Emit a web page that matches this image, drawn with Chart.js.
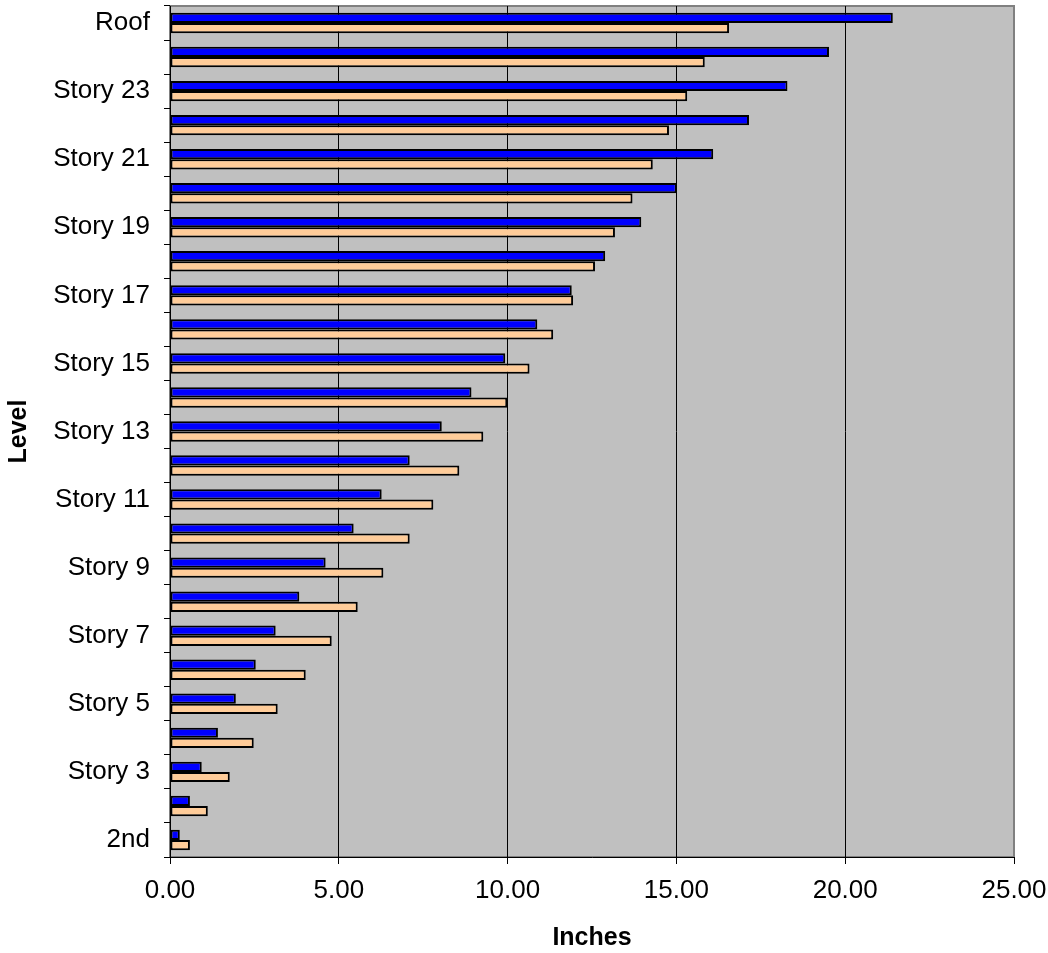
<!DOCTYPE html>
<html>
<head>
<meta charset="utf-8">
<script src="https://cdn.jsdelivr.net/npm/chart.js@4/dist/chart.umd.min.js"></script>
<style>
    body { margin: 0; background: #fff; }
    canvas { display: block; }
</style>
</head>
<body>
<canvas id="chart" width="1048" height="953"></canvas>
<script>
// levels from bottom (2nd) to top (Roof)
const levels = ['2nd', 'Story 2', 'Story 3', 'Story 4', 'Story 5', 'Story 6', 'Story 7', 'Story 8',
    'Story 9', 'Story 10', 'Story 11', 'Story 12', 'Story 13', 'Story 14', 'Story 15', 'Story 16',
    'Story 17', 'Story 18', 'Story 19', 'Story 20', 'Story 21', 'Story 22', 'Story 23', 'Story 24', 'Roof'];
const blueValues = [0.29, 0.59, 0.94, 1.42, 1.95, 2.54, 3.13, 3.83, 4.61, 5.44, 6.27, 7.10, 8.05,
    8.93, 9.93, 10.88, 11.90, 12.89, 13.96, 15.01, 16.09, 17.15, 18.29, 19.52, 21.41];
const peachValues = [0.59, 1.12, 1.77, 2.48, 3.19, 4.02, 4.79, 5.56, 6.32, 7.10, 7.80, 8.57, 9.28,
    9.99, 10.65, 11.35, 11.94, 12.59, 13.18, 13.70, 14.30, 14.78, 15.32, 15.84, 16.56];
const xTicks = [0, 5, 10, 15, 20, 25];

const FONT = '"Liberation Sans", Arial, sans-serif';

const plotBackground = {
    id: 'plotBackground',
    beforeDraw(chart) {
        const { ctx, chartArea: a } = chart;
        ctx.save();
        ctx.fillStyle = '#C0C0C0';
        ctx.fillRect(a.left, a.top, a.width, a.height);
        ctx.strokeStyle = '#808080';
        ctx.lineWidth = 2;
        ctx.strokeRect(a.left, a.top, a.width, a.height);
        ctx.restore();
    }
};

const ctx = document.getElementById('chart').getContext('2d');
new Chart(ctx, {
    type: 'bar',
    data: {
        labels: levels,
        datasets: [{
            label: 'Series 1',
            data: blueValues,
            backgroundColor: '#0000FF',
            borderColor: '#000',
            borderWidth: 2,
            borderSkipped: false
        }, {
            label: 'Series 2',
            data: peachValues,
            backgroundColor: '#FFCC99',
            borderColor: '#000',
            borderWidth: 2,
            borderSkipped: false
        }]
    },
    options: {
        indexAxis: 'y',
        responsive: false,
        animation: false,
        categoryPercentage: 0.6,
        barPercentage: 1.0,
        layout: { padding: { top: 6, right: 34, bottom: 0, left: 0 } },
        plugins: {
            legend: { display: false },
            tooltip: { enabled: false }
        },
        scales: {
            x: {
                min: 0,
                max: 25,
                afterBuildTicks(scale) {
                    scale.ticks = xTicks.map(v => ({ value: v }));
                },
                afterFit(scale) {
                    scale.height = 96;
                    scale.paddingLeft = 0;
                    scale.paddingRight = 0;
                },
                ticks: {
                    color: '#000',
                    padding: 11,
                    maxRotation: 0,
                    font: { family: FONT, size: 26 },
                    callback: v => Number(v).toFixed(2)
                },
                grid: {
                    color: c => (c.tick && c.tick.value === 25) ? '#808080' : '#000',
                    tickColor: '#000',
                    tickLength: 7,
                    lineWidth: 1
                },
                border: { color: '#000', width: 1 },
                title: {
                    display: true,
                    text: 'Inches',
                    color: '#000',
                    padding: { top: 0, bottom: 0 },
                    font: { family: FONT, size: 25, weight: 'bold', lineHeight: 1.2 }
                }
            },
            y: {
                reverse: true,
                offset: true,
                afterFit(scale) {
                    scale.width = 170;
                    scale.paddingTop = 0;
                    scale.paddingBottom = 0;
                },
                ticks: {
                    color: '#000',
                    padding: 14,
                    autoSkip: false,
                    font: { family: FONT, size: 26 },
                    callback: (v, i) => (i % 2 === 0 ? levels[i] : '')
                },
                grid: {
                    offset: true,
                    drawOnChartArea: false,
                    tickColor: '#000',
                    tickLength: 6
                },
                border: { color: '#000', width: 1 },
                title: {
                    display: true,
                    text: 'Level',
                    color: '#000',
                    padding: { top: 4, bottom: 0 },
                    font: { family: FONT, size: 25, weight: 'bold', lineHeight: 1.2 }
                }
            }
        }
    },
    plugins: [plotBackground]
});
</script>
</body>
</html>
